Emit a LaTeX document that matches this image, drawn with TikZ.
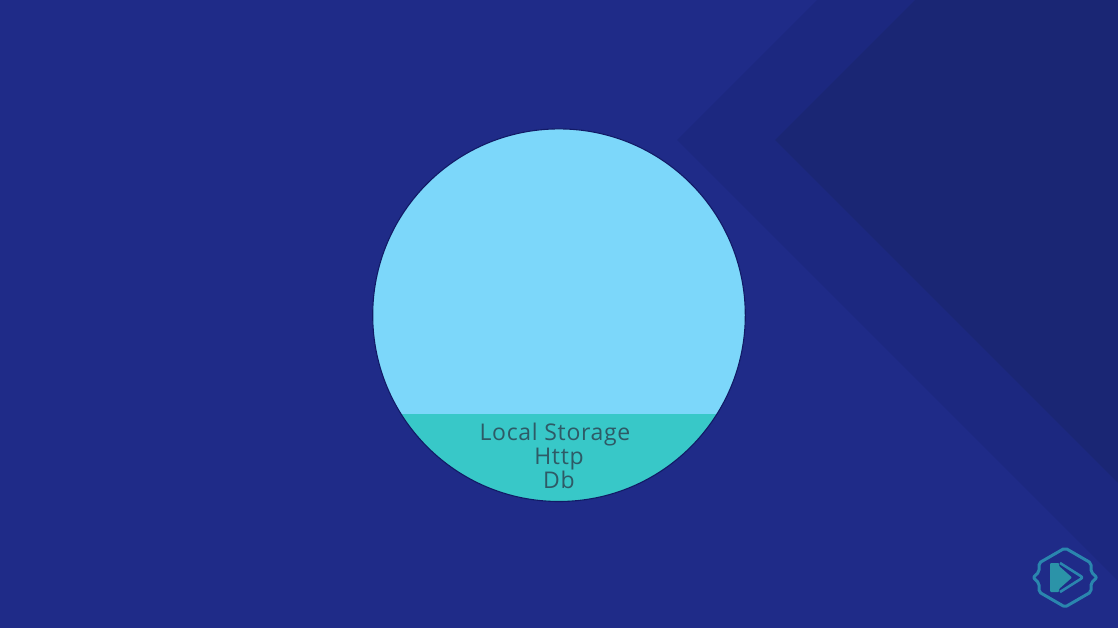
\documentclass[tikz,border=0pt]{standalone}
\usepackage{fontspec}
\setmainfont[LetterSpace=3]{Open Sans}
\usetikzlibrary{calc}
\definecolor{bgblue}{HTML}{1F2B88}
\definecolor{chevA}{HTML}{1C2880}
\definecolor{chevB}{HTML}{1A2674}
\definecolor{lightb}{HTML}{7CD7FA}
\definecolor{tealb}{HTML}{38C8C8}
\definecolor{inkt}{HTML}{2E5A66}
\definecolor{ringc}{HTML}{111A66}
\definecolor{logoc}{HTML}{2A86AE}
\definecolor{logof}{HTML}{2B93A8}
\tikzset{
  memlabel/.style={text=inkt,font=\fontsize{23}{24}\selectfont,inner sep=0pt,anchor=base},
  logoline/.style={draw=logoc,line width=3pt,line join=round,rounded corners=2pt,fill=none}
}
\begin{document}
\begin{tikzpicture}[x=1pt,y=-1pt]
\useasboundingbox (0,0) rectangle (1118,628);
\fill[bgblue] (0,0) rectangle (1118,628);
\fill[chevA] (817,0) -- (677,140) -- (1118,581) -- (1118,0) -- cycle;
\fill[chevB] (915,0) -- (775,140) -- (1118,483) -- (1118,0) -- cycle;
% circle
\coordinate (c) at (559,315.2);
\begin{scope}
  \clip (c) circle (186.3);
  \fill[lightb] (372,128) rectangle (746,413.5);
  \fill[tealb] (372,413.5) rectangle (746,503);
\end{scope}
\draw[ringc,line width=1.1pt] (c) circle (186.3);
\node[memlabel] (ls) at (555,440) {Local Storage};
\node[memlabel] (ht) at (559,464) {Http};
\node[memlabel] (db) at (559,488) {Db};
% logo
\draw[logoline] (1065,548) -- (1091,563) -- (1091,572) -- (1097,577.5) -- (1091,583) -- (1091,592) -- (1065,607) -- (1039,592) -- (1039,583) -- (1033,577.5) -- (1039,572) -- (1039,563) -- cycle;
\fill[logof,rounded corners=1pt] (1050,563) -- (1059,563) -- (1059,566) -- (1072,577.5) -- (1059,589) -- (1059,592) -- (1050,592) -- cycle;
\draw[logoline,line width=2.6pt] (1060,563) -- (1083,577.5) -- (1060,592);
\end{tikzpicture}
\end{document}
